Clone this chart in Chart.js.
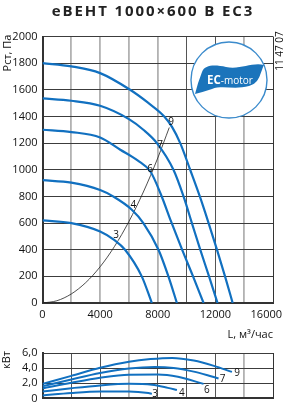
<!DOCTYPE html>
<html><head><meta charset="utf-8">
<script src="https://cdn.jsdelivr.net/npm/chart.js@4/dist/chart.umd.min.js"></script>
<style>
html,body{margin:0;padding:0;background:#fff;}
#wrap{position:relative;width:287px;height:410px;overflow:hidden;}
canvas{position:absolute;left:0;top:0;}
</style></head><body>
<div id="wrap">
<canvas id="c1" width="287" height="410"></canvas>
<canvas id="c2" width="287" height="410"></canvas>
</div>
<script>
// ---------- data ----------
const chartTitle = 'eВЕНТ 1000×600 В EC3';
const codeText = '11 47 07';
const pressureAxisTitle = 'Pст, Па';
const powerAxisTitle = 'кВт';
const flowAxisTitle = 'L, м³/час';
const xTickLabels = ['0', '4000', '8000', '12000', '16000'];
const pTickLabels = ['0', '200', '400', '600', '800', '1000', '1200', '1400', '1600', '1800', '2000'];
const nTickLabels = ['0', '2,0', '4,0', '6,0'];
const speeds = ['3', '4', '6', '7', '9'];

// pressure curves [flow m3/h, Pa]
const p3 = [[0,620],[2000,600],[4000,537],[5000,472],[5730,400],[6890,200],[7590,0]];
const p4 = [[0,922],[2000,903],[4000,848],[4900,800],[6200,700],[7000,600],[8050,400],[8740,200],[9330,0]];
const p6 = [[0,1300],[2000,1283],[4000,1242],[5400,1150],[6600,1070],[7500,985],[8200,820],[8930,610],[9690,400],[10450,200],[11180,0]];
const p7 = [[0,1535],[2000,1518],[4000,1480],[6000,1380],[7000,1300],[7940,1200],[9090,1000],[9790,800],[10370,600],[10950,400],[11560,200],[12150,0]];
const p9 = [[0,1800],[2000,1776],[4000,1725],[6080,1600],[7300,1505],[8450,1400],[9000,1320],[9560,1200],[10250,1000],[10920,800],[11530,600],[12110,400],[12670,200],[13200,0]];
// system (network) line
const sysLine = [[0,0],[1000,17],[2000,68],[3000,153],[4000,272],[5000,425],[6000,612],[7000,833],[8000,1088],[8800,1317]];
// power curves [flow m3/h, kW]
const n3 = [[0,0.39],[2000,0.72],[4000,0.91],[6000,0.91],[7350,0.70],[7590,0.6]];
const n4 = [[0,0.91],[2000,1.35],[4000,1.72],[6000,1.92],[7600,1.80],[8700,1.39],[9330,1.11]];
const n6 = [[0,1.31],[2000,2.06],[4000,2.73],[6000,3.13],[8000,3.15],[9400,2.85],[11180,1.92]];
const n7 = [[0,1.6],[2000,2.5],[4000,3.35],[6000,3.95],[7800,4.15],[9100,4.02],[10500,3.54],[11400,3.1],[12220,2.64]];
const n9 = [[0,1.92],[2000,2.98],[4000,4.05],[6000,4.85],[7500,5.2],[9000,5.35],[10500,5.0],[11900,4.3],[13150,3.5]];
// speed label anchors (data units)
const pLabelX = [5110, 6310, 7470, 8170, 8930];
const pLabelY = [510, 735, 1003, 1186, 1358];
const nLabelX = [7820, 9670, 11410, 12500, 13500];
const nLabelY = [0.51, 0.70, 1.11, 2.52, 3.33];

// ---------- styles ----------
const FONT = "'Open Sans', sans-serif";
const BLUE = '#1170c0';
const toXY = a => a.map(p => ({x: p[0], y: p[1]}));

function curve(data, color, width) {
  return {data: toXY(data), borderColor: color, borderWidth: width, pointRadius: 0,
    cubicInterpolationMode: 'monotone', fill: false};
}

function vGridColor(light) {
  return ctx => {
    const v = ctx.tick ? ctx.tick.value : 0;
    if (v === 0 || v === 16000) return '#333';
    return light.includes(v) ? '#b2b2b2' : '#555';
  };
}
function vGridWidth(light) {
  return ctx => {
    const v = ctx.tick ? ctx.tick.value : 0;
    return light.includes(v) ? 1.8 : 1;
  };
}

function rotText(ctx, text, x, y, font) {
  ctx.save();
  ctx.translate(x, y);
  ctx.rotate(-Math.PI / 2);
  ctx.font = font;
  ctx.textAlign = 'center';
  ctx.textBaseline = 'middle';
  ctx.fillText(text, 0, 0);
  ctx.restore();
}

function spacedText(ctx, text, cx, y, spacing) {
  const chars = Array.from(text);
  const widths = chars.map(c => ctx.measureText(c).width);
  const total = widths.reduce((a, b) => a + b, 0) + spacing * (chars.length - 1);
  let x = cx - total / 2;
  ctx.textAlign = 'left';
  chars.forEach((c, i) => { ctx.fillText(c, x, y); x += widths[i] + spacing; });
}

const topPlugin = {
  id: 'topDeco',
  beforeDatasetsDraw(chart) {
    const ctx = chart.ctx;
    ctx.save();
    // EC-motor logo
    const cx = 229, cy = 80, r = 38;
    ctx.beginPath(); ctx.arc(cx, cy, r, 0, Math.PI * 2);
    ctx.fillStyle = '#fff'; ctx.fill();
    ctx.lineWidth = 1.4; ctx.strokeStyle = '#3b8bcc'; ctx.stroke();
    ctx.beginPath();
    ctx.moveTo(195, 94);
    ctx.quadraticCurveTo(198, 82, 202, 72);
    ctx.bezierCurveTo(205, 64, 216, 65, 226, 67);
    ctx.bezierCurveTo(240, 70, 252, 62, 264, 65);
    ctx.bezierCurveTo(260, 73, 260, 83, 249, 86);
    ctx.bezierCurveTo(235, 90, 222, 85, 212, 89);
    ctx.quadraticCurveTo(203, 92, 195, 94);
    ctx.closePath();
    ctx.fillStyle = '#1b74bb'; ctx.fill();
    ctx.fillStyle = '#fff';
    ctx.textBaseline = 'alphabetic';
    ctx.textAlign = 'left';
    ctx.font = "bold 11.5px " + FONT;
    ctx.fillText('EC', 207, 83.5);
    const w = ctx.measureText('EC').width;
    ctx.font = "10px " + FONT;
    ctx.fillText('-motor', 207 + w, 83.5);
    ctx.restore();
  },
  afterDraw(chart) {
    const ctx = chart.ctx;
    const xs = chart.scales.x, ys = chart.scales.y;
    ctx.save();
    ctx.fillStyle = '#222';
    // title
    ctx.font = "bold 15px " + FONT;
    ctx.textBaseline = 'middle';
    spacedText(ctx, chartTitle, 152, 12, 1.9);
    // y title
    ctx.fillStyle = '#111';
    rotText(ctx, pressureAxisTitle, 8, 53, "11px " + FONT);
    // code
    rotText(ctx, codeText, 280, 51, "10px " + FONT);
    // x tick labels
    ctx.font = "11px " + FONT;
    ctx.textBaseline = 'middle';
    xTickLabels.forEach(t => {
      const px = xs.getPixelForValue(parseFloat(t));
      const w = ctx.measureText(t).width;
      let left = px - w / 2;
      if (left + w > 282) left = 282 - w;
      ctx.textAlign = 'left';
      ctx.fillText(t, left, 315);
    });
    // x title
    ctx.textAlign = 'right';
    ctx.fillText(flowAxisTitle, 273, 335);
    // speed labels
    ctx.font = "10px " + FONT;
    ctx.textAlign = 'center';
    speeds.forEach((s, i) => {
      ctx.fillText(s, xs.getPixelForValue(pLabelX[i]), ys.getPixelForValue(pLabelY[i]));
    });
    ctx.restore();
  }
};

const botPlugin = {
  id: 'botDeco',
  afterDraw(chart) {
    const ctx = chart.ctx;
    const xs = chart.scales.x, ys = chart.scales.y;
    ctx.save();
    ctx.fillStyle = '#111';
    rotText(ctx, powerAxisTitle, 7, 360, "11px " + FONT);
    ctx.font = "10px " + FONT;
    ctx.textAlign = 'center'; ctx.textBaseline = 'middle';
    speeds.forEach((s, i) => {
      ctx.fillText(s, xs.getPixelForValue(nLabelX[i]), ys.getPixelForValue(nLabelY[i]));
    });
    ctx.restore();
  }
};

Chart.defaults.font.family = FONT;
Chart.defaults.animation = false;

new Chart(document.getElementById('c1'), {
  type: 'line',
  data: {datasets: [
    curve(p3, BLUE, 2.2), curve(p4, BLUE, 2.2), curve(p6, BLUE, 2.2),
    curve(p7, BLUE, 2.2), curve(p9, BLUE, 2.2),
    curve(sysLine, '#222', 0.8)
  ]},
  options: {
    responsive: false, animation: false,
    layout: {padding: {left: 0, top: 36.5, right: 14, bottom: 107}},
    plugins: {legend: {display: false}, tooltip: {enabled: false}},
    scales: {
      x: {type: 'linear', min: 0, max: 16000,
        ticks: {display: false, stepSize: 2000},
        grid: {drawTicks: false, color: vGridColor([2000, 4000, 6000, 8000, 14000]), lineWidth: vGridWidth([2000, 4000, 6000, 8000, 14000])},
        border: {display: true, color: '#333', width: 2},
        afterFit: s => { s.height = 0; }
      },
      y: {type: 'linear', min: 0, max: 2000,
        ticks: {stepSize: 200, padding: 5, color: '#111', font: {size: 11, family: FONT},
          callback: (v) => pTickLabels[Math.round(v / 200)]},
        grid: {drawTicks: false, color: '#3c3c3c', lineWidth: 1},
        border: {display: true, color: '#333', width: 2},
        afterFit: s => { s.width = 42.5; }
      }
    }
  },
  plugins: [topPlugin]
});

new Chart(document.getElementById('c2'), {
  type: 'line',
  data: {datasets: [
    curve(n3, BLUE, 2), curve(n4, BLUE, 2), curve(n6, BLUE, 2),
    curve(n7, BLUE, 2), curve(n9, BLUE, 2)
  ]},
  options: {
    responsive: false, animation: false,
    layout: {padding: {left: 0, top: 353, right: 14, bottom: 7.5}},
    plugins: {legend: {display: false}, tooltip: {enabled: false}},
    scales: {
      x: {type: 'linear', min: 0, max: 16000,
        ticks: {display: false, stepSize: 2000},
        grid: {drawTicks: false, color: vGridColor([6000, 14000]), lineWidth: vGridWidth([6000, 14000])},
        border: {display: true, color: '#333', width: 2},
        afterFit: s => { s.height = 0; }
      },
      y: {type: 'linear', min: 0, max: 6,
        ticks: {stepSize: 2, padding: 5, color: '#111', font: {size: 11, family: FONT},
          callback: (v) => nTickLabels[Math.round(v / 2)]},
        grid: {drawTicks: false, color: '#3c3c3c', lineWidth: 1},
        border: {display: true, color: '#333', width: 2},
        afterFit: s => { s.width = 42.5; }
      }
    }
  },
  plugins: [botPlugin]
});
</script>
</body></html>
